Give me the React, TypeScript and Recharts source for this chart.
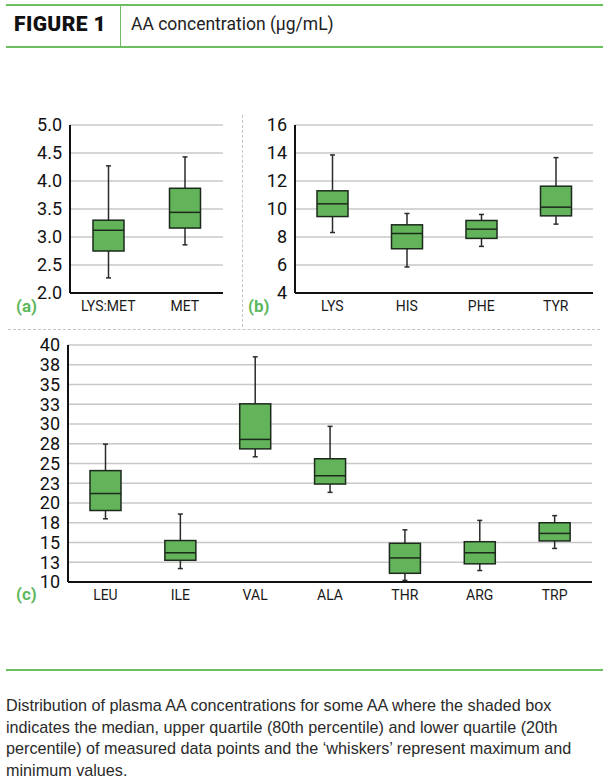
import { ComposedChart, Bar, XAxis, YAxis, CartesianGrid } from 'recharts';

// panel (a)
const A_CATS = ['LYS:MET', 'MET'];
const A_MIN = [2.27, 2.86];
const A_Q1 = [2.75, 3.16];
const A_MED = [3.12, 3.44];
const A_Q3 = [3.3, 3.87];
const A_MAX = [4.27, 4.43];
const A_TICKS = [2, 2.5, 3, 3.5, 4, 4.5, 5];

// panel (b)
const B_CATS = ['LYS', 'HIS', 'PHE', 'TYR'];
const B_MIN = [8.32, 5.86, 7.33, 8.92];
const B_Q1 = [9.46, 7.16, 7.9, 9.51];
const B_MED = [10.37, 8.25, 8.56, 10.13];
const B_Q3 = [11.3, 8.87, 9.18, 11.63];
const B_MAX = [13.86, 9.68, 9.61, 13.67];
const B_TICKS = [4, 6, 8, 10, 12, 14, 16];

// panel (c)
const C_CATS = ['LEU', 'ILE', 'VAL', 'ALA', 'THR', 'ARG', 'TRP'];
const C_MIN = [18.0, 11.7, 25.85, 21.35, 10.2, 11.45, 14.25];
const C_Q1 = [19.05, 12.75, 26.85, 22.4, 11.1, 12.3, 15.2];
const C_MED = [21.2, 13.7, 28.05, 23.45, 13.05, 13.7, 16.15];
const C_Q3 = [24.1, 15.25, 32.55, 25.6, 14.9, 15.1, 17.5];
const C_MAX = [27.45, 18.6, 38.5, 29.7, 16.6, 17.8, 18.4];
const C_TICKS = [10, 12.5, 15, 17.5, 20, 22.5, 25, 27.5, 30, 32.5, 35, 37.5, 40];

const GREEN = '#62b35a';
const LABEL_GREEN = '#5cb85c';
const FONT = 'Roboto, "Liberation Sans", sans-serif';

type Row = { name: string; min: number; q1: number; med: number; q3: number; max: number };

function rows(cats: string[], mn: number[], q1: number[], med: number[], q3: number[], mx: number[]): Row[] {
  return cats.map((name, i) => ({ name, min: mn[i], q1: q1[i], med: med[i], q3: q3[i], max: mx[i] }));
}

// range bar [min, max] -> draw whisker + box inside the pixels the scale gave us
function BoxShape(props: any) {
  const { x, y, width, height, payload } = props;
  const top = Math.min(y, y + height);
  const bot = Math.max(y, y + height);
  const span = payload.max - payload.min || 1;
  const py = (v: number) => bot - ((v - payload.min) / span) * (bot - top);
  const cx = x + width / 2;
  const cap = 2.5;
  return (
    <g>
      <line x1={cx} x2={cx} y1={py(payload.max)} y2={py(payload.min)} stroke="#2a2a2a" strokeWidth={1.5} />
      <line x1={cx - cap} x2={cx + cap} y1={py(payload.max)} y2={py(payload.max)} stroke="#2a2a2a" strokeWidth={1.5} />
      <line x1={cx - cap} x2={cx + cap} y1={py(payload.min)} y2={py(payload.min)} stroke="#2a2a2a" strokeWidth={1.5} />
      <rect x={x} y={py(payload.q3)} width={width} height={py(payload.q1) - py(payload.q3)} fill={GREEN} stroke="#1c2a1c" strokeWidth={1.5} />
      <line x1={x} x2={x + width} y1={py(payload.med)} y2={py(payload.med)} stroke="#1c2a1c" strokeWidth={1.5} />
    </g>
  );
}

interface PanelProps {
  data: Row[];
  ticks: number[];
  fmt: (v: number) => string;
  width: number;
  height: number;
  margin: { top: number; right: number; left: number; bottom: number };
  yWidth: number;
  xHeight: number;
}

function Panel({ data, ticks, fmt, width, height, margin, yWidth, xHeight }: PanelProps) {
  return (
    <ComposedChart width={width} height={height} data={data} margin={margin}>
      <CartesianGrid vertical={false} stroke="#c8c8c8" strokeWidth={1.5} />
      <XAxis
        dataKey="name"
        height={xHeight}
        tickLine={false}
        axisLine={{ stroke: '#111', strokeWidth: 2 }}
        tick={{ fontSize: 14, fill: '#1a1a1a', fontFamily: FONT }}
        interval={0}
      />
      <YAxis
        width={yWidth}
        domain={[ticks[0], ticks[ticks.length - 1]]}
        ticks={ticks}
        interval={0}
        tickFormatter={fmt}
        tickLine={false}
        axisLine={{ stroke: '#111', strokeWidth: 2 }}
        tick={{ fontSize: 18, fill: '#111', fontFamily: FONT }}
      />
      <Bar dataKey={(d: Row) => [d.min, d.max]} barSize={31} shape={BoxShape} isAnimationActive={false} />
    </ComposedChart>
  );
}

const tag: React.CSSProperties = {
  position: 'absolute',
  color: LABEL_GREEN,
  fontFamily: FONT,
  fontWeight: 700,
  fontSize: 17,
};

export default function App() {
  const aData = rows(A_CATS, A_MIN, A_Q1, A_MED, A_Q3, A_MAX);
  const bData = rows(B_CATS, B_MIN, B_Q1, B_MED, B_Q3, B_MAX);
  const cData = rows(C_CATS, C_MIN, C_Q1, C_MED, C_Q3, C_MAX);

  return (
    <div style={{ position: 'absolute', left: 0, top: 0, width: 610, height: 782, background: '#fff', overflow: 'hidden' }}>
      {/* header */}
      <div style={{ position: 'absolute', left: 6, top: 4, width: 597, height: 0, borderTop: '2px solid #6cbf5f' }} />
      <div style={{ position: 'absolute', left: 6, top: 46, width: 597, height: 0, borderTop: '2px solid #6cbf5f' }} />
      <div style={{ position: 'absolute', left: 120, top: 6, width: 0, height: 40, borderLeft: '1.5px solid #6cbf5f' }} />
      <div style={{ position: 'absolute', left: 14, top: 12, fontFamily: FONT, fontWeight: 900, fontSize: 21, color: '#111', letterSpacing: 0.4 }}>
        FIGURE 1
      </div>
      <div style={{ position: 'absolute', left: 131, top: 14, fontFamily: FONT, fontSize: 17.5, color: '#222' }}>
        AA concentration (µg/mL)
      </div>

      {/* separators */}
      <div style={{ position: 'absolute', left: 242, top: 115, width: 0, height: 212, borderLeft: '1px dashed #c4c4c4' }} />
      <div style={{ position: 'absolute', left: 8, top: 329, width: 592, height: 0, borderTop: '1px dashed #c4c4c4' }} />

      <div style={{ position: 'absolute', left: 0, top: 100 }}>
        <Panel data={aData} ticks={A_TICKS} fmt={(v) => v.toFixed(1)} width={240} height={220}
          margin={{ top: 25, right: 17, left: 10, bottom: 0 }} yWidth={60} xHeight={27} />
      </div>
      <div style={{ position: 'absolute', left: 240, top: 100 }}>
        <Panel data={bData} ticks={B_TICKS} fmt={(v) => String(v)} width={370} height={220}
          margin={{ top: 25, right: 17, left: 0, bottom: 0 }} yWidth={55} xHeight={27} />
      </div>
      <div style={{ position: 'absolute', left: 0, top: 330 }}>
        <Panel data={cData} ticks={C_TICKS} fmt={(v) => String(Math.round(v))} width={610} height={280}
          margin={{ top: 15, right: 18, left: 8, bottom: 0 }} yWidth={60} xHeight={28} />
      </div>

      <div style={{ ...tag, left: 16, top: 296 }}>(a)</div>
      <div style={{ ...tag, left: 248, top: 296 }}>(b)</div>
      <div style={{ ...tag, left: 16, top: 584 }}>(c)</div>

      {/* footer */}
      <div style={{ position: 'absolute', left: 6, top: 669, width: 597, height: 0, borderTop: '2px solid #6cbf5f' }} />
      <div style={{ position: 'absolute', left: 6, top: 695, width: 570, fontFamily: '"Liberation Sans", Arial, sans-serif', fontSize: 16.2, lineHeight: '21.5px', color: '#2a2a2a' }}>
        Distribution of plasma AA concentrations for some AA where the shaded box indicates the median, upper quartile (80th percentile) and lower quartile (20th percentile) of measured data points and the ‘whiskers’ represent maximum and minimum values.
      </div>
    </div>
  );
}
